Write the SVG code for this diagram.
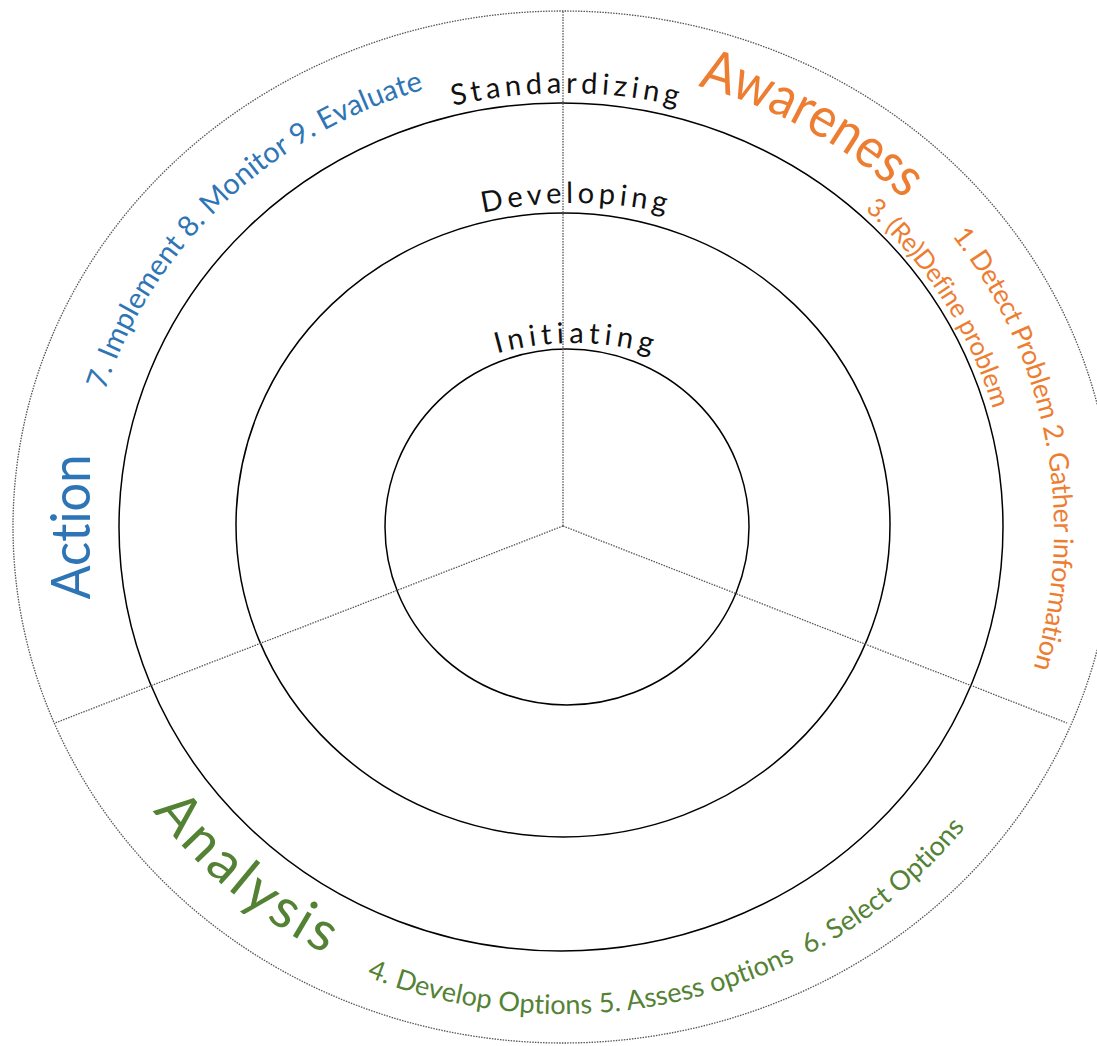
<svg xmlns="http://www.w3.org/2000/svg" width="1097" height="1046" viewBox="0 0 1097 1046">
<style>
.ring{fill:none;stroke:#000;stroke-width:1.5}
.dot{fill:none;stroke:#555;stroke-width:1.3;stroke-dasharray:1.5 1.2}
.t{font-family:Lato,"Liberation Sans",sans-serif;font-variant-ligatures:none}
.lvl{font-size:29px;fill:#111}
.orange{fill:#ED7D31}
.blue{fill:#2E75B6}
.green{fill:#548235}
</style>
<defs>
<path id="p-std" d="M315,160 A500,500 0 0 1 815,160"/>
<path id="p-dev" d="M359,260.6 A430,430 0 0 1 789,260.6"/>
<path id="p-ini" d="M387.6,410.9 A290,290 0 0 1 760.4,410.9"/>
<path id="p-aw" d="M698,86 A490,460 0 0 1 1025,380"/>
<path id="p-aw-steps" d="M952,235.9 A475,475 0 0 1 990.4,767.5"/>
<path id="p-def" d="M864.9,209.7 A449,431 0 0 1 1003.2,601.8"/>
<path id="p-act" d="M105,390.4 A480,457 0 0 1 521.2,71.7"/>
<path id="p-an" d="M152.8,810.9 A507,483 0 0 0 475,1002.7"/>
<path id="p-an-steps" d="M366.6,976.6 A511,487 0 0 0 1026.1,732.8"/>
</defs>
<rect width="1097" height="1046" fill="#fff"/>
<g id="rings">
<ellipse id="ring-outer" class="dot" cx="563" cy="527" rx="550" ry="516"/>
<ellipse id="ring-standardizing" class="ring" cx="561" cy="527" rx="442" ry="424"/>
<ellipse id="ring-developing" class="ring" cx="563" cy="525" rx="327" ry="312"/>
<ellipse id="ring-initiating" class="ring" cx="567" cy="527" rx="182" ry="178"/>
</g>
<g id="connectors">
<line class="dot" x1="563" y1="526" x2="563" y2="11"/>
<line class="dot" x1="563" y1="526" x2="1067" y2="723"/>
<line class="dot" x1="563" y1="526" x2="55" y2="723"/>
</g>
<g id="level-labels">
<text class="t lvl" text-anchor="middle"><textPath href="#p-std" startOffset="50%" textLength="226" lengthAdjust="spacing">Standardizing</textPath></text>
<text class="t lvl" text-anchor="middle"><textPath href="#p-dev" startOffset="50%" textLength="184" lengthAdjust="spacing">Developing</textPath></text>
<text class="t lvl" text-anchor="middle"><textPath href="#p-ini" startOffset="50%" textLength="156" lengthAdjust="spacing">Initiating</textPath></text>
</g>
<g id="awareness">
<text class="t orange" font-size="56"><textPath href="#p-aw" textLength="238" lengthAdjust="spacingAndGlyphs">Awareness</textPath></text>
<text class="t orange" font-size="27"><textPath href="#p-aw-steps" textLength="457" lengthAdjust="spacing">1. Detect Problem 2. Gather information</textPath></text>
<text class="t orange" font-size="26"><textPath href="#p-def" textLength="240" lengthAdjust="spacing">3. (Re)Define problem</textPath></text>
</g>
<g id="action">
<text class="t blue" font-size="54" text-anchor="middle" transform="translate(90,527) rotate(-90)" textLength="145" lengthAdjust="spacingAndGlyphs">Action</text>
<text class="t blue" font-size="29"><textPath href="#p-act" textLength="456" lengthAdjust="spacing">7. Implement 8. Monitor 9. Evaluate</textPath></text>
</g>
<g id="analysis">
<text class="t green" font-size="56"><textPath href="#p-an" textLength="226" lengthAdjust="spacing">Analysis</textPath></text>
<text class="t green" font-size="27" style="white-space:pre"><textPath href="#p-an-steps" textLength="659" lengthAdjust="spacing">4. Develop Options 5. Assess options  6. Select Options</textPath></text>
</g>
</svg>
